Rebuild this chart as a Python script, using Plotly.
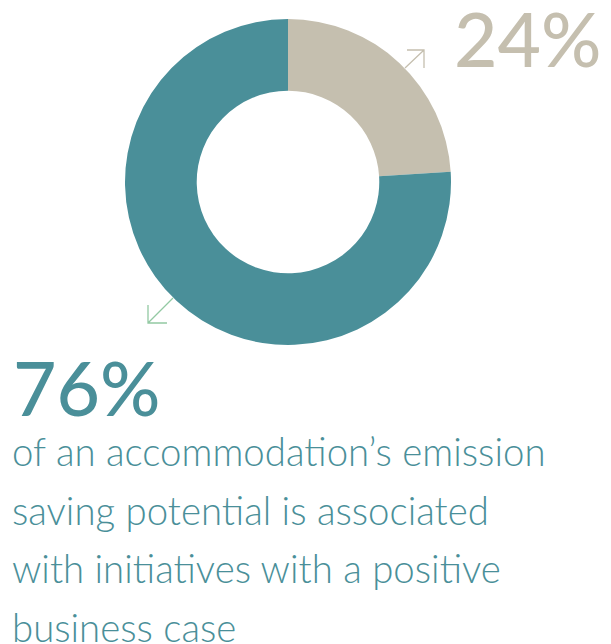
import plotly.graph_objects as go

# page body has an 8px margin, so the figure sits at (8, 8) in the window
OFF = 8
W, H = 611 - OFF, 644 - OFF

# data
labels = ["Other", "Positive business case"]
shares = [24, 76]
colors = ["#c5bfaf", "#4a8f99"]
big_labels = ["24%", "76%"]
caption_lines = [
    "of an accommodation\u2019s emission",
    "saving potential is associated",
    "with initiatives with a positive",
    "business case",
]

TEAL = "#4a8f99"
BEIGE = "#c5bfaf"
GREEN = "#93c9a3"
FONT = "Lato"


def px(x):
    # window pixel -> paper x
    return (x - OFF) / W


def py(y):
    # window pixel -> paper y
    return 1 - (y - OFF) / H


cx, cy, r = 288, 182, 163

fig = go.Figure(
    go.Pie(
        labels=labels,
        values=shares,
        hole=0.56,
        sort=False,
        direction="clockwise",
        rotation=0,
        textinfo="none",
        hoverinfo="label+percent",
        marker={"colors": colors, "line": {"width": 0}},
        domain={"x": [px(cx - r), px(cx + r)], "y": [py(cy + r), py(cy - r)]},
        showlegend=False,
    )
)

# big percentage labels
fig.add_annotation(
    x=px(452), y=py(38), xref="paper", yref="paper", xanchor="left", yanchor="middle",
    text=big_labels[0], showarrow=False,
    font={"family": FONT, "size": 75, "color": BEIGE, "weight": 500},
)
fig.add_annotation(
    x=px(11), y=py(387), xref="paper", yref="paper", xanchor="left", yanchor="middle",
    text=big_labels[1], showarrow=False,
    font={"family": FONT, "size": 75, "color": TEAL, "weight": 500},
)

# caption, one annotation per line for the wide line spacing
for i, line in enumerate(caption_lines):
    fig.add_annotation(
        x=px(10), y=py(451 + i * 58.5), xref="paper", yref="paper",
        xanchor="left", yanchor="middle", text=line, showarrow=False,
        font={"family": FONT, "size": 38.4, "color": TEAL, "weight": 300},
    )

# open chevron arrows
arrows = [
    # upper arrow (beige), pointing up-right
    ([(405, 68), (424, 50)], [(407, 50), (424, 50), (424, 68)], BEIGE),
    # lower arrow (green), pointing down-left
    ([(173, 298), (148, 323)], [(148, 305), (148, 323), (167, 323)], GREEN),
]
for stem, head, col in arrows:
    path = ""
    for seg in (stem, head):
        path += " M " + " L ".join(f"{px(x):.5f},{py(y):.5f}" for x, y in seg)
    fig.add_shape(type="path", path=path.strip(), xref="paper", yref="paper",
                  line={"color": col, "width": 1.3})

fig.update_layout(
    width=W, height=H,
    margin={"l": 0, "r": 0, "t": 0, "b": 0},
    paper_bgcolor="white", plot_bgcolor="white",
)

fig.write_html("out.html")
